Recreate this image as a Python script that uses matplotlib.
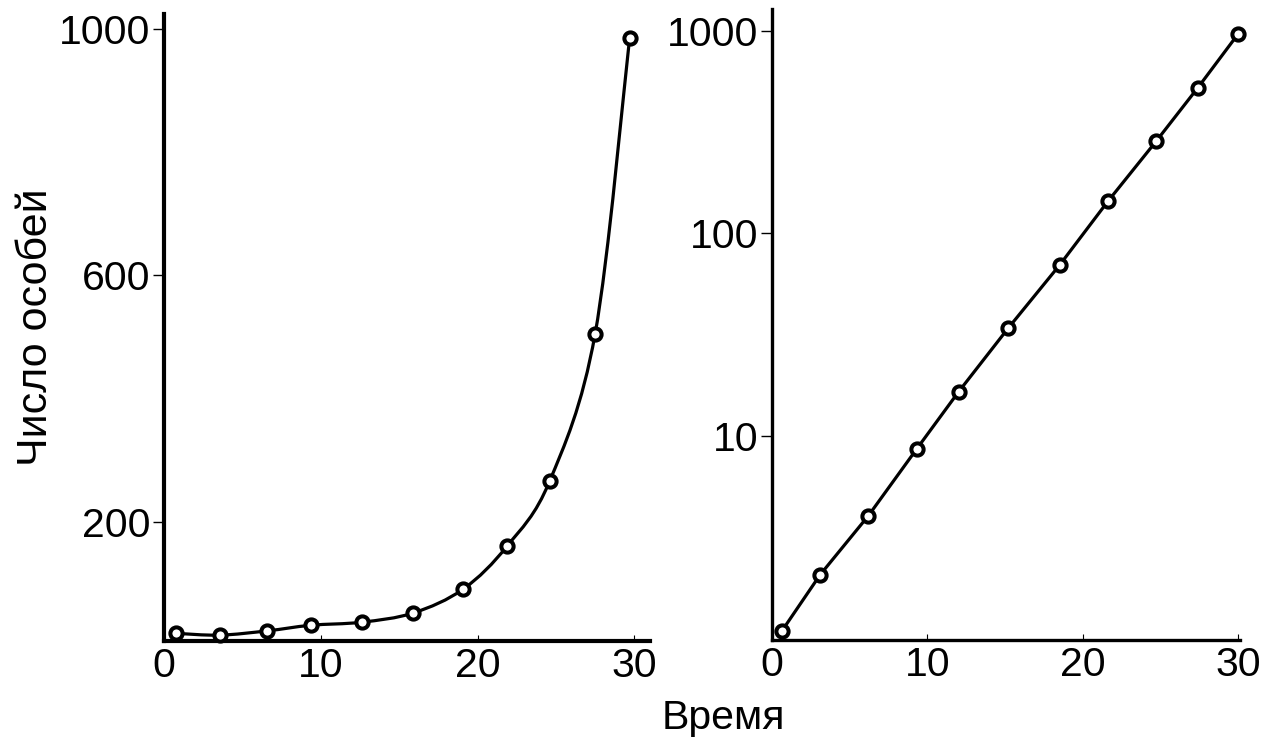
import matplotlib
matplotlib.use("Agg")
import matplotlib.pyplot as plt
from matplotlib.path import Path
from matplotlib.patches import PathPatch
from matplotlib.ticker import FixedLocator, FixedFormatter, NullLocator
import numpy as np

plt.rcParams['font.family'] = ['Liberation Sans', 'DejaVu Sans']

# Data
time_lin = [0.76, 3.56, 6.6, 9.35, 12.6, 15.9, 19.1, 21.9, 24.6, 27.5, 29.7]
count_lin = [19, 16, 23, 32, 37, 52, 91, 161, 266, 505, 985]

time_log = [0.65, 3.1, 6.2, 9.3, 12.0, 15.2, 18.5, 21.6, 24.7, 27.4, 30.0]
count_log = [1.09, 2.06, 4.03, 8.6, 16.5, 34.1, 69.8, 144, 285, 526, 972]

yticks_lin = [200, 600, 1000]
yticks_log = [10, 100, 1000]
xticks = [0, 10, 20, 30]

W, H = 1268, 744
fig = plt.figure(figsize=(W / 100, H / 100), dpi=100)

ax1 = fig.add_axes([164 / W, 1 - 641 / H, (650 - 164) / W, (641 - 14) / H])
ax2 = fig.add_axes([772 / W, 1 - 640 / H, (1240 - 772) / W, (640 - 9) / H])

tick_fs = 29.5
lw_curve = 2.3
ms = 8.8
mew = 2.9

# Left panel: smooth curve through points (Catmull-Rom -> cubic Bezier)
pts = np.column_stack([time_lin, count_lin]).astype(float)
verts = [tuple(pts[0])]
codes = [Path.MOVETO]
n = len(pts)
for i in range(n - 1):
    p0 = pts[i - 1] if i > 0 else pts[i]
    p1 = pts[i]
    p2 = pts[i + 1]
    p3 = pts[i + 2] if i + 2 < n else pts[i + 1]
    c1 = p1 + (p2 - p0) / 6.0
    c2 = p2 - (p3 - p1) / 6.0
    verts += [tuple(c1), tuple(c2), tuple(p2)]
    codes += [Path.CURVE4, Path.CURVE4, Path.CURVE4]
ax1.add_patch(PathPatch(Path(verts, codes), facecolor='none', edgecolor='black',
                        lw=lw_curve, capstyle='round', joinstyle='round', zorder=2))
ax1.plot(time_lin, count_lin, linestyle='none', marker='o', ms=ms, mew=mew,
         mfc='white', mec='black', zorder=3, clip_on=False)

ax1.set_xlim(0, 31.0)
ax1.set_ylim(6.5, 1024)
ax1.yaxis.set_major_locator(FixedLocator(yticks_lin))
ax1.xaxis.set_major_locator(FixedLocator(xticks))

# Right panel: log scale
ax2.plot(time_log, count_log, color='black', lw=lw_curve, marker='o', ms=ms, mew=mew,
         mfc='white', mec='black', zorder=3, clip_on=False)
ax2.set_yscale('log')
ax2.set_xlim(0, 30.1)
ax2.set_ylim(0.98, 1285)
ax2.yaxis.set_major_locator(FixedLocator(yticks_log))
ax2.yaxis.set_major_formatter(FixedFormatter([str(v) for v in yticks_log]))
ax2.yaxis.set_minor_locator(NullLocator())
ax2.xaxis.set_major_locator(FixedLocator(xticks))

for ax, sw in ((ax1, 3.0), (ax2, 2.4)):
    ax.spines['top'].set_visible(False)
    ax.spines['right'].set_visible(False)
    ax.spines['left'].set_linewidth(sw)
    ax.spines['bottom'].set_linewidth(sw)
    ax.tick_params(axis='y', direction='out', length=8, width=1.0, pad=2,
                   labelsize=tick_fs)
    ax.tick_params(axis='x', direction='in', length=4, width=0.8, pad=4,
                   labelsize=tick_fs)
    ax.set_facecolor('none')

fig.text(723 / W, 1 - 718 / H, 'Время', fontsize=29.5, ha='center', va='center')
fig.text(36 / W, 1 - 327 / H, 'Число особей', fontsize=31, ha='center', va='center',
         rotation=90)

fig.savefig('out.png', dpi=100, facecolor='white')
